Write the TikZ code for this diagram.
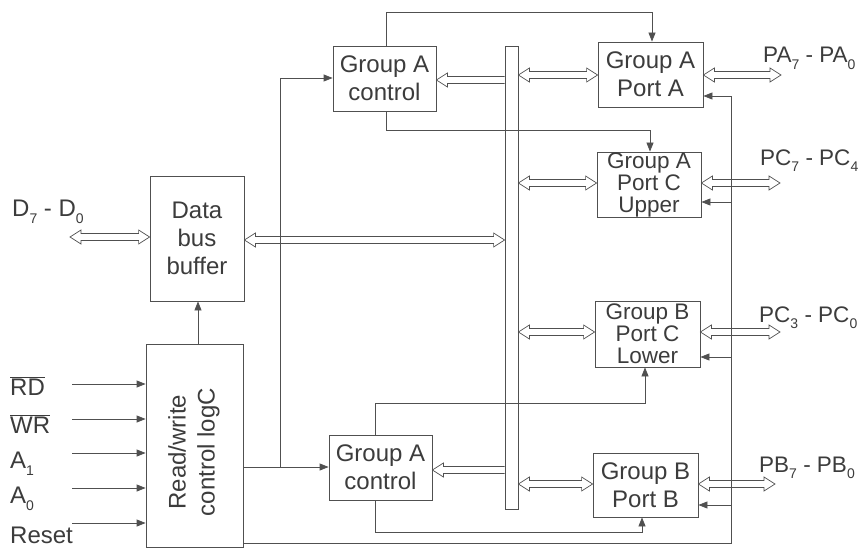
\documentclass[tikz,border=0pt]{standalone}
\usepackage{fontspec}
\setmainfont{Liberation Sans}
\usetikzlibrary{arrows.meta,calc}
\newcommand\hbiarrow[2]{%
  \draw[hollow] let \p1=(#1), \p2=(#2) in
    (\x1,\y1) -- (\x1+11pt,\y1+7pt) -- (\x1+11pt,\y1+3.5pt) -- (\x2-11pt,\y1+3.5pt)
    -- (\x2-11pt,\y1+7pt) -- (\x2,\y1) -- (\x2-11pt,\y1-7pt) -- (\x2-11pt,\y1-3.5pt)
    -- (\x1+11pt,\y1-3.5pt) -- (\x1+11pt,\y1-7pt) -- cycle;}
\newcommand\hlarrow[2]{%
  \draw[hollow] let \p1=(#1), \p2=(#2) in
    (\x2,\y1+3.5pt) -- (\x1+11pt,\y1+3.5pt) -- (\x1+11pt,\y1+7pt) -- (\x1,\y1)
    -- (\x1+11pt,\y1-7pt) -- (\x1+11pt,\y1-3.5pt) -- (\x2,\y1-3.5pt);}
\newcommand\sbs[1]{\raisebox{-0.3em}{\fontsize{14}{14}\selectfont #1}}
\definecolor{ink}{HTML}{3C3C3C}
\definecolor{wire}{HTML}{505050}
\begin{document}
\begin{tikzpicture}[x=1pt,y=-1pt,
  ln/.style={draw=wire, line width=0.8pt},
  blk/.style={ln, rectangle, inner sep=0pt, align=center, text=ink,
    font=\fontsize{24}{28}\selectfont},
  tight/.style={font=\fontsize{22.5}{22}\selectfont},
  hollow/.style={draw=wire, line width=0.7pt, line join=miter},
  busbar/.style={draw=wire, line width=0.8pt, rectangle, inner sep=0pt, minimum width=13pt, minimum height=463pt},
  sig/.style={ln, -{Triangle[length=9pt,width=7pt]}},
  lbl/.style={font=\fontsize{22.5}{28}\selectfont, text=ink, inner sep=0pt, anchor=base west},
  inl/.style={font=\fontsize{24}{26}\selectfont, text=ink, inner sep=0pt, anchor=base west}]
\useasboundingbox (0,0) rectangle (866,548);
\fill[white] (0,0) rectangle (866,548);

% blocks
\node[blk, minimum width=103pt, minimum height=65pt] (ctlA) at (384.5,78.5) {Group A\\control};
\node[blk, minimum width=105pt, minimum height=65pt] (portA) at (650.5,74.5) {Group A\\Port A};
\node[blk, tight, minimum width=104pt, minimum height=65pt] (portCU) at (649,184.5) {Group A\\Port C\\Upper};
\node[blk, tight, minimum width=105pt, minimum height=66pt] (portCL) at (647.5,334) {Group B\\Port C\\Lower};
\node[blk, minimum width=105pt, minimum height=64pt] (portB) at (645.5,485) {Group B\\Port B};
\node[blk, minimum width=103pt, minimum height=65pt] (ctlB) at (380.5,467.5) {Group A\\control};
\node[blk, minimum width=94pt, minimum height=125pt] (dbb) at (197,238.5) {Data\\bus\\buffer};
\node[blk, minimum width=97pt, minimum height=203pt] (rw) at (194.5,445.5) {};
\node[rotate=90, align=center, text=ink, inner sep=0pt, font=\fontsize{24}{29}\selectfont] (rwt) at (194,452) {Read/write\\control logC};
\node[busbar] (bus) at (511.5,277.5) {};

% labels
\node[lbl] (lPA) at (763,63) {PA\sbs{7} - PA\sbs{0}};
\node[lbl] (lPCU) at (760,165) {PC\sbs{7} - PC\sbs{4}};
\node[lbl] (lPCL) at (759,322) {PC\sbs{3} - PC\sbs{0}};
\node[lbl] (lPB) at (759,472) {PB\sbs{7} - PB\sbs{0}};
\node[inl] (lD) at (12,216) {D\sbs{7} - D\sbs{0}};
\node[inl] (lRD) at (10,395) {$\overline{\mbox{RD}}$};
\node[inl] (lWR) at (10,433) {$\overline{\mbox{WR}}$};
\node[inl] (lA1) at (10,468) {A\sbs{1}};
\node[inl] (lA0) at (10,503) {A\sbs{0}};
\node[inl] (lRs) at (10,543) {Reset};

% free ends
\coordinate (inRD) at (72,384);
\coordinate (inWR) at (72,419);
\coordinate (inA1) at (72,453);
\coordinate (inA0) at (72,488);
\coordinate (inRs) at (72,523);
\coordinate (Dend) at (70,237);
\coordinate (PAend) at (781,75);
\coordinate (PCUend) at (780,183);
\coordinate (PCLend) at (780,332);
\coordinate (PBend) at (775,484);

% input signals
\foreach \c in {inRD,inWR,inA1,inA0,inRs}
  \draw[sig] (\c) -- (\c -| rw.west);

% read/write to data bus buffer
\draw[sig] (rw.north -| 198,0) -- (dbb.south -| 198,0);

% read/write to group controls
\draw[sig] (rw.east |- 0,467) -- (ctlB.west |- 0,467);
\draw[sig] (280,467) -- (280,78) -- (ctlA.west |- 0,78);

% group A control outputs
\draw[sig] (ctlA.north -| 386,0) -- (386,12) -- (652,12) -- (portA.north -| 652,0);
\draw[sig] (ctlA.south -| 386,0) -- (386,130) -- (650,130) -- (portCU.north -| 650,0);

% group B control outputs
\draw[sig] (ctlB.north -| 375,0) -- (375,403) -- (645,403) -- (portCL.south -| 645,0);
\draw[sig] (ctlB.south -| 375,0) -- (375,532) -- (642,532) -- (portB.south -| 642,0);

% right side feedback line
\draw[sig] (rw.east |- 0,543) -- (731,543) -- (731,96) -- (portA.east |- 0,96);
\draw[sig] (731,202) -- (portCU.east |- 0,202);
\draw[sig] (731,357) -- (portCL.east |- 0,357);
\draw[sig] (731,505) -- (portB.east |- 0,505);

% hollow bus arrows
\hbiarrow{Dend}{dbb.west |- 0,237}
\hbiarrow{dbb.east |- 0,240}{bus.west |- 0,240}
\hlarrow{ctlA.east |- 0,80}{bus.west |- 0,80}
\hlarrow{ctlB.east |- 0,470}{bus.west |- 0,470}
\hbiarrow{bus.east |- 0,75}{portA.west |- 0,75}
\hbiarrow{bus.east |- 0,183}{portCU.west |- 0,183}
\hbiarrow{bus.east |- 0,332}{portCL.west |- 0,332}
\hbiarrow{bus.east |- 0,484}{portB.west |- 0,484}
\hbiarrow{portA.east |- 0,75}{PAend}
\hbiarrow{portCU.east |- 0,183}{PCUend}
\hbiarrow{portCL.east |- 0,332}{PCLend}
\hbiarrow{portB.east |- 0,484}{PBend}
\end{tikzpicture}
\end{document}
